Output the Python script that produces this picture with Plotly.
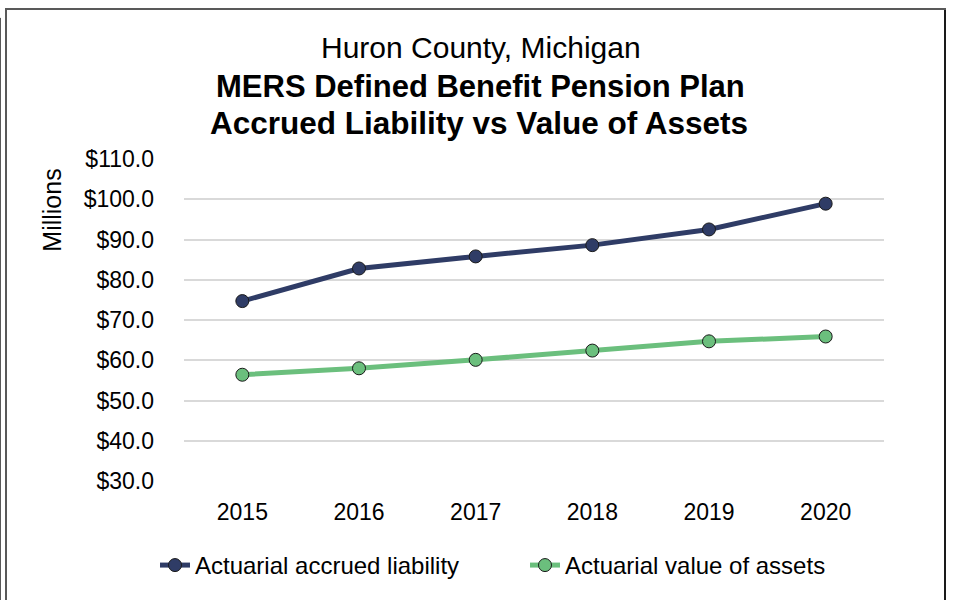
import plotly.graph_objects as go

years = ["2015", "2016", "2017", "2018", "2019", "2020"]
liability = [74.7, 82.8, 85.8, 88.6, 92.5, 98.9]
assets = [56.4, 58.0, 60.1, 62.4, 64.7, 65.9]
y_ticks = [30, 40, 50, 60, 70, 80, 90, 100, 110]
y_tick_labels = ["$" + format(v, ".1f") for v in y_ticks]

title_lines = ["Huron County, Michigan",
               "MERS Defined Benefit Pension Plan",
               "Accrued Liability vs Value of Assets"]

FONT = "Liberation Sans, Arial, sans-serif"
W, H = 953, 600
L, R, T, B = 184, 884, 159, 483


def px_x(px):
    return (px - L) / (R - L)


def px_y(py):
    return (B - py) / (B - T)


fig = go.Figure()
fig.add_trace(go.Scatter(
    x=years, y=liability, name="Actuarial accrued liability",
    mode="lines+markers",
    line=dict(color="#2F3C66", width=5),
    marker=dict(size=13, color="#2F3C66", line=dict(color="#1a1a1a", width=1)),
))
fig.add_trace(go.Scatter(
    x=years, y=assets, name="Actuarial value of assets",
    mode="lines+markers",
    line=dict(color="#6BBF7D", width=5),
    marker=dict(size=13, color="#6BBF7D", line=dict(color="#1a1a1a", width=1)),
))

annotations = [
    dict(text=title_lines[0], x=px_x(481), y=px_y(47), font=dict(size=30)),
    dict(text="<b>" + title_lines[1] + "</b>", x=px_x(480), y=px_y(86), font=dict(size=31)),
    dict(text="<b>" + title_lines[2] + "</b>", x=px_x(479), y=px_y(123), font=dict(size=31.5)),
    dict(text="Millions", x=px_x(52), y=px_y(211), textangle=-90, font=dict(size=25)),
]
for a in annotations:
    a.update(xref="paper", yref="paper", showarrow=False, xanchor="center", yanchor="middle")
    a["font"].update(family=FONT, color="#000000")

shapes = [
    dict(type="rect", xref="paper", yref="paper",
         x0=px_x(6), x1=px_x(945), y0=px_y(615), y1=px_y(8),
         line=dict(color="#595959", width=2), fillcolor="rgba(0,0,0,0)", layer="below"),
    dict(type="line", xref="paper", yref="paper",
         x0=px_x(945), x1=px_x(945), y0=px_y(615), y1=px_y(9),
         line=dict(color="#1a1a1a", width=2)),
    dict(type="line", xref="paper", yref="paper",
         x0=px_x(0.5), x1=px_x(0.5), y0=px_y(615), y1=px_y(17),
         line=dict(color="#595959", width=1)),
]

fig.update_layout(
    width=W, height=H,
    margin=dict(l=L, r=W - R, t=T, b=H - B, pad=0),
    paper_bgcolor="white", plot_bgcolor="white",
    font=dict(family=FONT, size=23, color="#000000"),
    showlegend=True,
    legend=dict(orientation="h", x=px_x(155), y=px_y(568), xanchor="left", yanchor="middle",
                font=dict(size=24, family=FONT, color="#000000"),
                entrywidth=325, entrywidthmode="pixels", itemwidth=30,
                bgcolor="rgba(0,0,0,0)"),
    annotations=annotations,
    shapes=shapes,
)
fig.update_xaxes(type="category", range=[-0.5, 5.5], showgrid=False, showline=False,
                 ticks="", tickfont=dict(size=23), ticklabelstandoff=15, zeroline=False)
fig.update_yaxes(range=[30, 110], tickvals=y_ticks, ticktext=y_tick_labels,
                 showgrid=True, gridcolor="#D9D9D9", gridwidth=1.5, showline=False,
                 zeroline=False, ticks="", tickfont=dict(size=23), ticklabelstandoff=29)

fig.write_html("out.html", config={"displayModeBar": False},
               post_script="document.body.style.margin='0';document.body.style.overflow='hidden';")
